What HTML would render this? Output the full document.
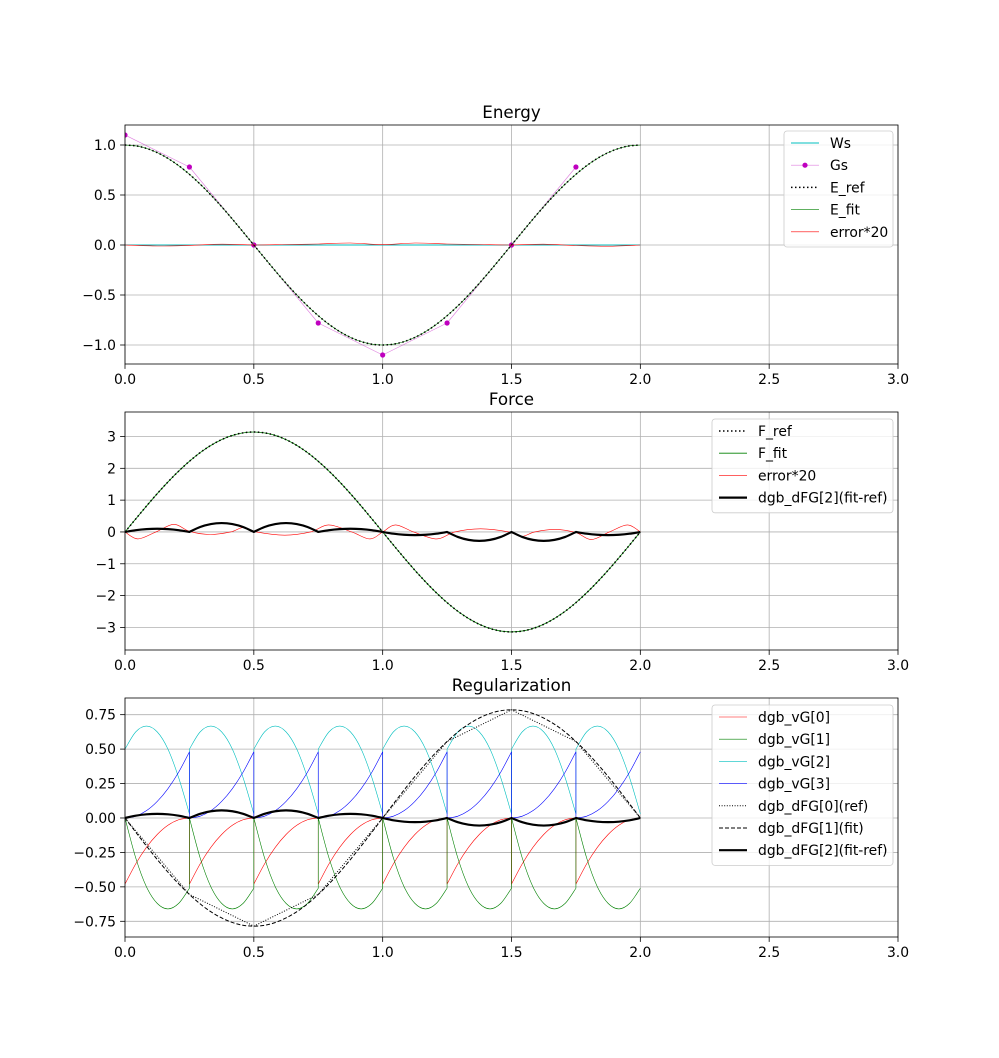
<!DOCTYPE html>
<html><head><meta charset="utf-8"><style>
body{margin:0;background:#fff}
svg text{font-family:"DejaVu Sans","Liberation Sans",sans-serif;fill:#000}
</style></head><body>
<svg id="fig" width="999" height="1053" viewBox="0 0 999 1053" xmlns="http://www.w3.org/2000/svg"></svg>
<script>
// ---- data ----
const xs = [0,0.05,0.1,0.15,0.2,0.25,0.3,0.35,0.4,0.45,0.5,0.55,0.6,0.65,0.7,0.75,0.8,0.85,0.9,0.95,1,1.05,1.1,1.15,1.2,1.25,1.3,1.35,1.4,1.45,1.5,1.55,1.6,1.65,1.7,1.75,1.8,1.85,1.9,1.95,2];
const eRef = [1,0.988,0.951,0.891,0.809,0.707,0.588,0.454,0.309,0.156,0,-0.156,-0.309,-0.454,-0.588,-0.707,-0.809,-0.891,-0.951,-0.988,-1,-0.988,-0.951,-0.891,-0.809,-0.707,-0.588,-0.454,-0.309,-0.156,0,0.156,0.309,0.454,0.588,0.707,0.809,0.891,0.951,0.988,1];
const fRef = [0,0.491,0.971,1.426,1.847,2.221,2.542,2.799,2.988,3.103,3.142,3.103,2.988,2.799,2.542,2.221,1.847,1.426,0.971,0.491,0,-0.491,-0.971,-1.426,-1.847,-2.221,-2.542,-2.799,-2.988,-3.103,-3.142,-3.103,-2.988,-2.799,-2.542,-2.221,-1.847,-1.426,-0.971,-0.491,0];
const dfgFit = [0,-0.123,-0.243,-0.357,-0.462,-0.555,-0.636,-0.700,-0.747,-0.776,-0.785,-0.776,-0.747,-0.700,-0.636,-0.555,-0.462,-0.357,-0.243,-0.123,0,0.123,0.243,0.357,0.462,0.555,0.636,0.700,0.747,0.776,0.785,0.776,0.747,0.700,0.636,0.555,0.462,0.357,0.243,0.123,0];
const knotX = [0,0.25,0.5,0.75,1,1.25,1.5,1.75,2];
const dfgRef = [0,-0.555,-0.785,-0.555,0,0.555,0.785,0.555,0];
const gsX = [0,0.25,0.5,0.75,1,1.25,1.5,1.75];
const gsV = [1.1,0.78,0,-0.78,-1.1,-0.78,0,0.78];
const wsX = [0,2];
const wsV = [0,0];
const errEX = [0,0.125,0.25,0.375,0.5,0.625,0.75,0.875,1,1.125,1.25,1.375,1.5,1.625,1.75,1.875,2];
const errEV = [0,-0.01,-0.004,0.008,0,0.005,0.01,0.02,0.004,0.02,0.01,0.005,0,0.008,-0.005,-0.012,0];
const errFX = [0,0.05,0.12,0.19,0.25,0.33,0.41,0.46,0.51,0.62,0.72,0.79,0.88,0.95,1,1.05,1.12,1.21,1.28,1.38,1.49,1.54,1.59,1.67,1.75,1.81,1.88,1.95,2];
const errFV = [0,-0.22,0,0.24,0.02,-0.08,0,0.14,0,-0.1,0,0.22,0,-0.22,0,0.22,0,-0.22,0,0.1,0,-0.14,0,0.08,-0.02,-0.24,0,0.22,0];
const segT = [0,1/6,2/6,3/6,4/6,5/6,1];
const vG0 = [-0.48,-0.333,-0.213,-0.12,-0.053,-0.013,0];
const vG1 = [0,-0.29,-0.5,-0.62,-0.66,-0.62,-0.51];
const vG2 = [0.5,0.625,0.667,0.625,0.5,0.292,0.03];
const vG3 = [0,0.013,0.053,0.12,0.213,0.333,0.48];
const bump = [0,0.556,0.889,1,0.889,0.556,0];
const peakF = [0.1,0.28,0.28,0.1,-0.1,-0.28,-0.28,-0.1];
const peakR = [0.03,0.055,0.055,0.03,-0.03,-0.055,-0.055,-0.03];
const xTicks = [0,0.5,1,1.5,2,2.5,3];
const xTickLabels = ["0.0","0.5","1.0","1.5","2.0","2.5","3.0"];
const eTicks = [1,0.5,0,-0.5,-1];
const eTickLabels = ["1.0","0.5","0.0","−0.5","−1.0"];
const fTicks = [3,2,1,0,-1,-2,-3];
const fTickLabels = ["3","2","1","0","−1","−2","−3"];
const rTicks = [0.75,0.5,0.25,0,-0.25,-0.5,-0.75];
const rTickLabels = ["0.75","0.50","0.25","0.00","−0.25","−0.50","−0.75"];

// ---- helpers ----
const FS = 13.9, TFS = 16.7;
const svg = document.getElementById('fig');
const NS = 'http://www.w3.org/2000/svg';
function mk(tag, attrs, parent){const e=document.createElementNS(NS,tag);for(const k in attrs)e.setAttribute(k,attrs[k]);(parent||svg).appendChild(e);return e;}
function axisObj(top,bottom,ymin,ymax){return {top,bottom,L:125,R:898,sx:v=>125+(v/3)*773,sy:v=>bottom-(v-ymin)/(ymax-ymin)*(bottom-top)};}
function smooth(pts){let d='M'+pts[0][0].toFixed(2)+','+pts[0][1].toFixed(2);
  for(let i=0;i<pts.length-1;i++){const p0=pts[i-1]||pts[i],p1=pts[i],p2=pts[i+1],p3=pts[i+2]||p2;
    const c1=[p1[0]+(p2[0]-p0[0])/6,p1[1]+(p2[1]-p0[1])/6],c2=[p2[0]-(p3[0]-p1[0])/6,p2[1]-(p3[1]-p1[1])/6];
    d+='C'+c1[0].toFixed(2)+','+c1[1].toFixed(2)+' '+c2[0].toFixed(2)+','+c2[1].toFixed(2)+' '+p2[0].toFixed(2)+','+p2[1].toFixed(2);}
  return d;}
function poly(pts){return 'M'+pts.map(p=>p[0].toFixed(2)+','+p[1].toFixed(2)).join('L');}
function pts(ax,X,Y){return X.map((x,i)=>[ax.sx(x),ax.sy(Y[i])]);}
function segPath(ax,vals,isPeak){let d='';
  for(let s=0;s<8;s++){const p=segT.map((t,i)=>[ax.sx(s*0.25+t*0.25),ax.sy(isPeak?vals[s]*bump[i]:vals[i])]);
    const sp=smooth(p);d+=(s===0?sp:'L'+sp.slice(1));}
  return d;}
function drawAxes(ax,name,title,yT,yL){
  const g=mk('g',{});
  mk('rect',{x:ax.L,y:ax.top,width:ax.R-ax.L,height:ax.bottom-ax.top,fill:'#fff'},g);
  xTicks.forEach((v,i)=>{const x=ax.sx(v);
    mk('line',{x1:x,x2:x,y1:ax.top,y2:ax.bottom,stroke:'#b0b0b0','stroke-width':0.8},g);
    mk('line',{x1:x,x2:x,y1:ax.bottom,y2:ax.bottom+4.9,stroke:'#000','stroke-width':0.8},g);
    const t=mk('text',{x:x,y:ax.bottom+20,'font-size':FS,'text-anchor':'middle'},g);t.textContent=xTickLabels[i];
    });
  yT.forEach((v,i)=>{const y=ax.sy(v);
    mk('line',{x1:ax.L,x2:ax.R,y1:y,y2:y,stroke:'#b0b0b0','stroke-width':0.8},g);
    mk('line',{x1:ax.L-4.9,x2:ax.L,y1:y,y2:y,stroke:'#000','stroke-width':0.8},g);
    const t=mk('text',{x:ax.L-9,y:y+5,'font-size':FS,'text-anchor':'end'},g);t.textContent=yL[i];
    });
  const t=mk('text',{x:(ax.L+ax.R)/2,y:ax.top-7,'font-size':TFS,'text-anchor':'middle'},g);t.textContent=title;
  
  const clip=mk('clipPath',{id:'clip-'+name});mk('rect',{x:ax.L,y:ax.top,width:ax.R-ax.L,height:ax.bottom-ax.top},clip);
  const pg=mk('g',{'clip-path':'url(#clip-'+name+')'});
  return pg;}
function frame(ax){const r=mk('rect',{x:ax.L,y:ax.top,width:ax.R-ax.L,height:ax.bottom-ax.top,fill:'none',stroke:'#000','stroke-width':0.8});
  }
function path(g,d,st,name){const p=mk('path',Object.assign({d:d,fill:'none','stroke-linejoin':'round'},st),g);
  return p;}
function legend(x,y,w,entries,name){
  const g=mk('g',{});
  const h=entries.length*22.2+5;
  mk('rect',{x:x,y:y,width:w,height:h,rx:3,fill:'#fff','fill-opacity':0.8,stroke:'#ccc','stroke-width':0.8},g);
  entries.forEach((e,i)=>{const cy=y+12+i*22.2;
    const eg=mk('g',{},g);
    mk('line',Object.assign({x1:x+7,x2:x+35,y1:cy,y2:cy,fill:'none'},e.st),eg);
    if(e.marker)mk('circle',{cx:x+21,cy:cy,r:2.6,fill:'#bf00bf'},eg);
    const t=mk('text',{x:x+46,y:cy+5,'font-size':FS},eg);t.textContent=e.label;});}

// ---- Energy ----
const aE=axisObj(125,364,-1.19,1.2);
const gE=drawAxes(aE,'energy','Energy',eTicks,eTickLabels);
path(gE,poly(pts(aE,wsX,wsV)),{stroke:'#00bfbf','stroke-width':1},'ws-line');
path(gE,poly(pts(aE,gsX,gsV)),{stroke:'#bf00bf','stroke-width':0.6,'stroke-opacity':0.5},'gs-line');
gsX.forEach((x,i)=>{const c=mk('circle',{cx:aE.sx(x),cy:aE.sy(gsV[i]),r:2.6,fill:'#bf00bf'},gE);});
path(gE,smooth(pts(aE,xs,eRef)),{stroke:'#008000','stroke-width':0.6},'e-fit-line');
path(gE,smooth(pts(aE,xs,eRef)),{stroke:'#000','stroke-width':1.5,'stroke-dasharray':'1.5,2.5'},'e-ref-line');
path(gE,smooth(pts(aE,errEX,errEV)),{stroke:'#ff0000','stroke-width':0.6},'e-error-line');
frame(aE);
legend(784,131,109,[
 {label:'Ws',st:{stroke:'#00bfbf','stroke-width':1}},
 {label:'Gs',st:{stroke:'#bf00bf','stroke-width':0.6,'stroke-opacity':0.5},marker:true},
 {label:'E_ref',st:{stroke:'#000','stroke-width':1.5,'stroke-dasharray':'1.5,2.5'}},
 {label:'E_fit',st:{stroke:'#008000','stroke-width':0.6}},
 {label:'error*20',st:{stroke:'#ff0000','stroke-width':0.6}}],'energy-legend');

// ---- Force ----
const aF=axisObj(412,650,-3.71,3.77);
const gF=drawAxes(aF,'force','Force',fTicks,fTickLabels);
path(gF,smooth(pts(aF,xs,fRef)),{stroke:'#008000','stroke-width':0.8},'f-fit-line');
path(gF,smooth(pts(aF,xs,fRef)),{stroke:'#000','stroke-width':1.5,'stroke-dasharray':'1.5,2.5'},'f-ref-line');
path(gF,smooth(pts(aF,errFX,errFV)),{stroke:'#ff0000','stroke-width':0.6},'f-error-line');
path(gF,segPath(aF,peakF,true),{stroke:'#000','stroke-width':2.2},'f-dfg2-line');
frame(aF);
legend(712,419,181,[
 {label:'F_ref',st:{stroke:'#000','stroke-width':1.5,'stroke-dasharray':'1.5,2.5'}},
 {label:'F_fit',st:{stroke:'#008000','stroke-width':0.8}},
 {label:'error*20',st:{stroke:'#ff0000','stroke-width':0.6}},
 {label:'dgb_dFG[2](fit-ref)',st:{stroke:'#000','stroke-width':2.2}}],'force-legend');

// ---- Regularization ----
const aR=axisObj(698,937,-0.864,0.871);
const gR=drawAxes(aR,'regularization','Regularization',rTicks,rTickLabels);
path(gR,segPath(aR,vG0,false),{stroke:'#ff0000','stroke-width':0.6},'vg0-line');
path(gR,segPath(aR,vG1,false),{stroke:'#008000','stroke-width':0.6},'vg1-line');
path(gR,segPath(aR,vG2,false),{stroke:'#00bfbf','stroke-width':0.6},'vg2-line');
path(gR,segPath(aR,vG3,false),{stroke:'#0000ff','stroke-width':0.6},'vg3-line');
path(gR,poly(pts(aR,knotX,dfgRef)),{stroke:'#000','stroke-width':1,'stroke-dasharray':'1,1.6'},'dfg0-ref-line');
path(gR,smooth(pts(aR,xs,dfgFit)),{stroke:'#000','stroke-width':1,'stroke-dasharray':'4,2'},'dfg1-fit-line');
path(gR,segPath(aR,peakR,true),{stroke:'#000','stroke-width':2.2},'dfg2-diff-line');
frame(aR);
legend(712,705,181,[
 {label:'dgb_vG[0]',st:{stroke:'#ff0000','stroke-width':0.6}},
 {label:'dgb_vG[1]',st:{stroke:'#008000','stroke-width':0.6}},
 {label:'dgb_vG[2]',st:{stroke:'#00bfbf','stroke-width':0.6}},
 {label:'dgb_vG[3]',st:{stroke:'#0000ff','stroke-width':0.6}},
 {label:'dgb_dFG[0](ref)',st:{stroke:'#000','stroke-width':1,'stroke-dasharray':'1,1.6'}},
 {label:'dgb_dFG[1](fit)',st:{stroke:'#000','stroke-width':1,'stroke-dasharray':'4,2'}},
 {label:'dgb_dFG[2](fit-ref)',st:{stroke:'#000','stroke-width':2.2}}],'regularization-legend');
</script>
</body></html>
